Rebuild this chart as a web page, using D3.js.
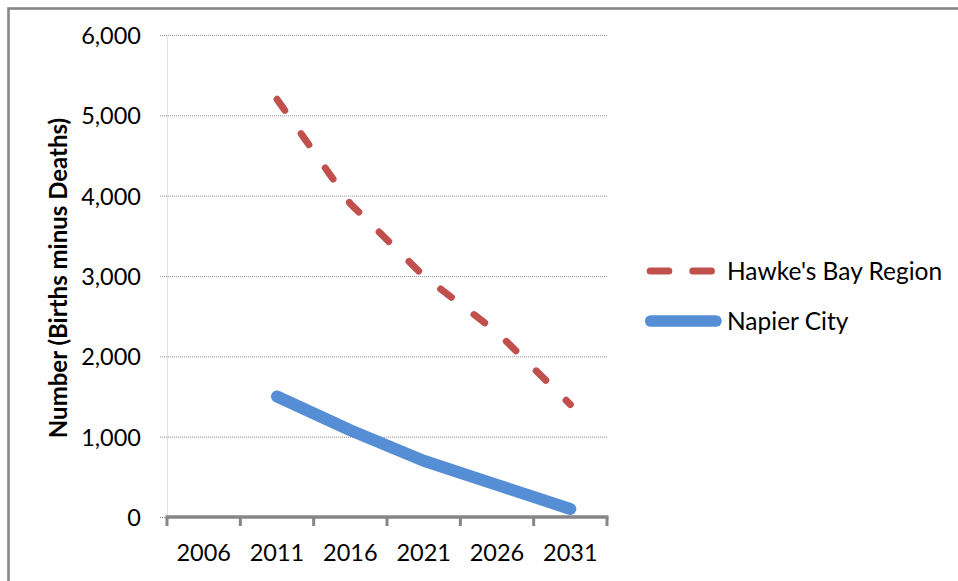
<!DOCTYPE html>
<html>
<head>
<meta charset="utf-8">
<script src="https://cdn.jsdelivr.net/npm/d3@7"></script>
<style>
  html, body { margin: 0; padding: 0; background: #fff; }
  text { font-family: Lato, "Open Sans", sans-serif; fill: #000; }
</style>
</head>
<body>
<div id="d3-target"></div>
<script>
const years = ['2006', '2011', '2016', '2021', '2026', '2031'];
const hawkesBay = [null, 5200, 3900, 3000, 2300, 1400];
const napier = [null, 1500, 1080, 700, 400, 100];
const yTicks = [0, 1000, 2000, 3000, 4000, 5000, 6000];
const seriesNames = ["Hawke's Bay Region", 'Napier City'];

const W = 958, H = 581;
const margin = {top: 35, right: 351, bottom: 64, left: 167},
  width = W - margin.left - margin.right,
  height = H - margin.top - margin.bottom;

const x = d3.scaleBand()
  .domain(years)
  .range([0, width])
  .padding(0);

const y = d3.scaleLinear()
  .domain([0, 6000])
  .range([height, 0]);

const svgTop = d3.select('#d3-target')
  .append('svg')
  .attr('width', W)
  .attr('height', H);

// outer chart border (only top and left fall inside the picture)
svgTop.append('rect')
  .attr('x', 8.5)
  .attr('y', 8.5)
  .attr('width', W + 20)
  .attr('height', H + 20)
  .attr('fill', 'none')
  .attr('stroke', '#878787')
  .attr('stroke-width', 2.6);

const svg = svgTop.append('g')
  .attr('transform', `translate(${margin.left},${margin.top})`);

// horizontal dotted gridlines
const grid = svg.append('g')
  .attr('class', 'grid')
  .call(d3.axisLeft(y).tickValues(yTicks).tickSize(-width - 7).tickFormat(''));
grid.select('.domain').remove();
grid.selectAll('.tick line')
  .attr('x1', -7)
  .attr('x2', width)
  .attr('stroke', '#8f8f8f')
  .attr('stroke-dasharray', '1,1');

// y axis: light dotted vertical line + labels
const yAxis = svg.append('g')
  .attr('class', 'y axis')
  .call(d3.axisLeft(y).tickValues(yTicks).tickSize(0).tickPadding(26).tickFormat(d3.format(',')));
yAxis.select('.domain')
  .attr('stroke', '#c4c4c4')
  .attr('stroke-dasharray', '1,1');
yAxis.selectAll('text')
  .attr('font-size', 23.5)
  .attr('font-family', 'Lato')
  .attr('fill', '#000')
  .attr('dy', '0.36em');

// x axis: solid grey line, tick marks between categories
const xAxis = svg.append('g')
  .attr('class', 'x axis')
  .attr('transform', `translate(0,${height})`)
  .call(d3.axisBottom(x).tickSize(0).tickPadding(27));
xAxis.select('.domain').remove();
xAxis.selectAll('text')
  .attr('font-size', 23.5)
  .attr('font-family', 'Lato')
  .attr('fill', '#000');

const bounds = years.map(d => x(d)).concat([width]);
xAxis.selectAll('.bound')
  .data(bounds)
  .enter().append('line')
  .attr('class', 'bound')
  .attr('x1', d => d)
  .attr('x2', d => d)
  .attr('y1', 0)
  .attr('y2', 9)
  .attr('stroke', '#868686')
  .attr('stroke-width', 3);
xAxis.append('line')
  .attr('x1', -1.5)
  .attr('x2', width + 1.5)
  .attr('y1', 0)
  .attr('y2', 0)
  .attr('stroke', '#868686')
  .attr('stroke-width', 3.5);

const line = d3.line()
  .defined(d => d.v != null)
  .x(d => x(d.year) + x.bandwidth() / 2)
  .y(d => y(d.v));

const dataMap = [
  {values: hawkesBay, color: '#c0504d', w: 7, dash: '13.5,28.5', legendDash: '18.6,24'},
  {values: napier, color: '#558ed5', w: 12, dash: null, legendDash: null}
];

dataMap.forEach(s => {
  svg.append('path')
    .datum(years.map((year, i) => ({year, v: s.values[i]})))
    .attr('d', line)
    .attr('fill', 'none')
    .attr('stroke', s.color)
    .attr('stroke-width', s.w)
    .attr('stroke-linecap', 'round')
    .attr('stroke-linejoin', 'round')
    .attr('stroke-dasharray', s.dash);
});

// y axis title
svgTop.append('text')
  .attr('transform', 'translate(67,278) rotate(-90)')
  .attr('text-anchor', 'middle')
  .attr('font-size', 24)
  .attr('font-weight', 'bold')
  .text('Number (Births minus Deaths)');

// legend
const legend = svgTop.append('g')
  .attr('class', 'legend')
  .attr('transform', 'translate(645,0)');
const rows = legend.selectAll('.legend-line')
  .data(dataMap)
  .enter().append('g')
  .attr('class', 'legend-line')
  .attr('transform', (d, i) => `translate(0, ${271 + 50 * i})`);
rows.append('line')
  .attr('x1', (d, i) => i === 0 ? 5.2 : 5.8)
  .attr('x2', (d, i) => i === 0 ? 67.5 : 70.9)
  .attr('stroke', d => d.color)
  .attr('stroke-width', d => d.w === 7 ? 7 : 11.7)
  .attr('stroke-linecap', 'round')
  .attr('stroke-dasharray', d => d.legendDash);
rows.append('text')
  .attr('x', 82)
  .attr('dy', '0.36em')
  .attr('font-size', 24.5)
  .text((d, i) => seriesNames[i]);
</script>
</body>
</html>
